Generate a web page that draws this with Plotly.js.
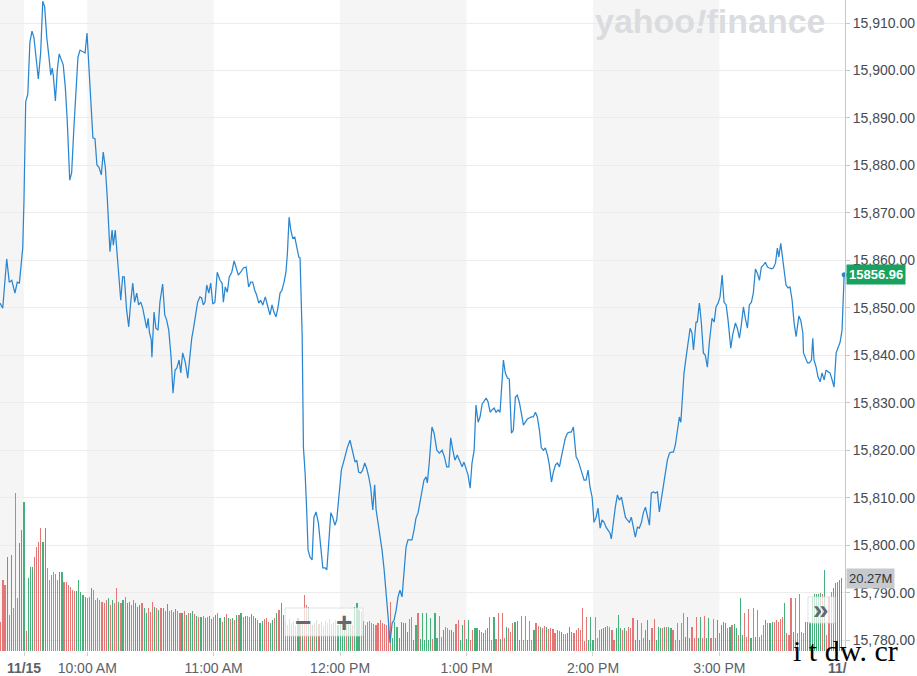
<!DOCTYPE html>
<html>
<head>
<meta charset="utf-8">
<script src="https://cdn.plot.ly/plotly-3.0.1.min.js"></script>
<style>html,body{margin:0;padding:0;background:#fff;}#chart{width:917px;height:676px;}</style>
</head>
<body>
<div id="chart"></div>
<script>
// ---- DATA ----
// price series: minutes after 09:30 and index level
const minutes = [
-11.4,-10.1,-8.2,-7.0,-5.8,-4.3,-3.2,-2.2,-0.6,0,
0.8,1.8,2.8,3.8,4.7,6.0,6.8,7.9,8.9,9.8,
10.8,11.9,12.7,13.4,13.9,14.9,15.8,16.7,17.9,18.6,
19.6,20.5,21.7,22.6,23.7,24.7,25.6,26.6,27.7,29.0,
29.9,30.7,31.7,32.7,33.7,34.6,35.6,36.7,37.6,38.6,
39.5,40.2,40.8,41.8,42.4,43.3,44.0,45.0,45.9,46.8,
47.6,48.7,49.7,50.6,51.6,52.5,53.5,54.4,55.4,56.3,
57.3,58.2,58.9,59.5,60.4,60.7,61.7,62.6,63.6,64.5,
65.8,66.8,67.7,68.7,69.8,70.7,71.7,72.5,73.6,74.4,
75.3,76.6,77.7,78.8,79.6,80.3,81.2,82.4,83.5,84.3,
85.1,85.9,86.7,87.7,88.6,89.6,90.6,91.7,93.0,94.0,
94.6,95.5,96.5,97.4,98.6,99.7,100.6,101.7,102.8,104.1,
105.4,106.0,106.6,107.6,108.5,109.5,110.4,111.4,112.3,113.3,
114.5,115.5,116.7,117.7,118.6,119.6,120.5,121.5,122.4,123.4,
124.3,125.0,125.8,126.6,127.5,128.5,129.4,130.4,131.0,131.5,
132.0,132.6,133.4,134.2,134.8,135.7,136.7,137.6,138.6,139.7,
140.8,141.8,142.9,143.7,144.6,145.6,146.5,147.5,148.4,149.6,
150.6,152.3,153.4,154.7,156.0,157.1,157.9,158.8,159.8,160.7,
161.7,162.6,163.6,164.5,165.5,166.4,167.1,168.0,169.0,169.9,
170.9,171.8,172.8,173.7,174.7,175.6,176.6,177.5,178.4,179.4,
180.4,181.3,182.2,183.2,184.1,185.1,186.0,187.0,187.9,188.9,
189.8,190.8,191.4,192.3,193.6,194.6,195.9,197.1,198.4,199.5,
200.6,201.6,202.5,203.5,204.5,205.6,206.9,207.9,208.8,209.8,
210.7,211.7,212.6,213.6,214.5,215.5,216.4,217.4,218.3,219.3,
220.2,221.2,222.1,223.1,224.0,225.0,225.9,226.7,227.5,228.4,
229.4,230.3,231.3,232.2,233.2,234.1,235.1,236.0,237.0,237.9,
238.9,239.8,240.8,241.7,242.7,243.6,244.6,245.5,246.5,247.4,
248.4,249.3,250.3,251.2,252.2,253.1,254.1,255.0,256.0,256.9,
257.9,258.8,259.7,260.7,261.4,262.0,262.9,263.9,264.8,265.8,
266.7,267.7,268.6,269.6,270.5,271.5,272.4,273.4,274.3,275.3,
276.2,277.2,278.1,278.7,279.7,280.6,281.6,282.5,283.5,284.4,
285.4,286.3,287.3,288.2,289.2,290.1,291.1,292.0,293.0,293.9,
294.9,295.8,296.8,297.7,298.7,299.6,300.6,301.5,302.5,303.4,
304.4,305.3,306.3,307.2,308.2,309.1,310.1,311.0,311.7,312.3,
313.2,314.2,315.1,316.1,317.0,317.7,318.9,319.5,320.5,321.4,
322.4,323.3,324.3,325.2,326.5,327.5,328.4,329.4,330.3,331.3,
332.2,333.2,334.1,335.1,335.4,336.3,337.6,338.5,339.5,340.4,
341.4,342.3,343.3,344.2,345.2,346.1,347.1,348.0,349.0,349.9,
350.9,351.8,352.8,353.7,354.7,355.6,356.6,357.5,358.2,359.1,
360.1,360.7,361.6,362.6,363.5,364.5,365.4,366.4,367.7,368.6,
369.6,369.9,370.8,371.8,372.7,373.7,374.3,374.9,375.9,376.8,
377.8,378.7,379.7,380.6,381.6,382.5,383.5,384.4,385.4,386.3,
387.3,388.2,389.2
];
const prices = [
15851.0,15849.9,15860.3,15855.4,15855.8,15853.1,15855.4,15855.2,15862.6,15872.7,
15893.4,15895.0,15906.0,15908.3,15907.0,15902.2,15898.2,15903.7,15914.6,15913.4,
15907.0,15902.6,15899.0,15900.5,15899.0,15893.6,15900.1,15903.5,15902.0,15901.2,
15896.5,15889.6,15876.9,15878.4,15888.1,15896.5,15902.8,15904.3,15904.1,15903.7,
15907.9,15902.2,15893.8,15885.8,15885.6,15880.1,15879.6,15878.0,15882.8,15879.6,
15873.3,15866.4,15861.8,15866.4,15863.2,15866.4,15862.2,15856.5,15851.6,15856.5,
15856.5,15849.5,15846.0,15851.0,15855.2,15851.2,15853.1,15850.6,15851.2,15850.0,
15847.8,15845.7,15847.8,15844.9,15843.2,15839.6,15849.1,15845.7,15845.3,15851.2,
15855.0,15848.5,15847.4,15845.3,15839.6,15832.0,15836.9,15837.3,15839.0,15836.3,
15840.5,15838.4,15835.2,15840.5,15843.6,15845.3,15848.1,15851.2,15852.3,15852.1,
15850.6,15851.2,15854.8,15853.1,15855.2,15850.8,15851.2,15857.5,15855.8,15855.2,
15851.2,15854.4,15853.3,15856.5,15857.5,15859.9,15858.6,15856.9,15857.5,15858.4,
15858.6,15856.9,15854.4,15855.4,15855.4,15853.7,15852.7,15851.0,15851.6,15850.6,
15852.3,15850.6,15848.5,15850.6,15849.1,15848.1,15850.0,15853.1,15853.7,15855.4,
15857.5,15861.5,15869.1,15866.4,15864.7,15864.9,15862.8,15860.7,15860.5,15851.6,
15844.3,15820.6,15815.2,15806.8,15799.0,15797.5,15796.9,15805.9,15807.0,15804.7,
15799.6,15795.2,15795.2,15794.8,15800.4,15806.8,15805.9,15804.2,15805.3,15811.0,
15815.8,15818.6,15820.5,15822.1,15819.6,15817.5,15817.9,15815.4,15815.2,15815.8,
15817.3,15816.2,15814.4,15812.2,15807.4,15812.7,15807.4,15804.7,15801.1,15799.0,
15794.8,15790.5,15784.8,15779.4,15783.6,15784.2,15786.3,15789.1,15790.5,15789.1,
15794.8,15799.6,15801.1,15801.1,15801.1,15803.2,15805.7,15806.8,15808.9,15811.6,
15813.7,15814.4,15813.1,15817.3,15824.9,15823.6,15820.0,15819.4,15820.0,15818.6,
15816.5,15816.5,15822.6,15820.0,15817.9,15819.0,15817.5,15816.5,15817.5,15816.2,
15814.8,15812.0,15817.3,15820.0,15829.5,15825.9,15827.0,15829.7,15830.2,15831.0,
15830.2,15828.0,15828.5,15828.9,15828.0,15828.5,15828.0,15834.8,15839.0,15836.3,
15835.2,15835.0,15823.6,15824.2,15831.2,15831.6,15830.0,15827.8,15825.3,15825.9,
15826.6,15826.8,15827.0,15827.0,15828.0,15827.0,15824.2,15820.5,15820.0,15820.5,
15819.0,15816.9,15813.3,15815.4,15816.9,15817.3,15816.5,15818.6,15820.7,15822.6,
15823.6,15823.8,15823.8,15824.9,15821.5,15818.6,15817.9,15816.5,15815.2,15813.7,
15813.7,15815.8,15812.2,15810.1,15804.8,15805.9,15807.8,15803.6,15805.3,15804.8,
15803.8,15803.2,15802.5,15801.3,15805.3,15808.0,15810.6,15809.5,15810.1,15808.0,
15805.9,15805.3,15804.8,15805.9,15803.8,15801.7,15803.8,15803.6,15804.8,15806.8,
15808.0,15805.9,15804.2,15811.0,15811.2,15811.0,15811.2,15807.0,15810.1,15812.6,
15815.8,15817.9,15819.4,15819.6,15819.6,15821.1,15824.2,15827.0,15825.9,15831.2,
15836.2,15839.6,15842.6,15845.7,15844.7,15841.1,15847.0,15847.0,15851.0,15847.0,
15840.5,15840.0,15837.5,15842.6,15847.8,15847.0,15850.2,15851.0,15852.3,15856.9,
15851.2,15850.6,15847.4,15843.6,15841.5,15844.3,15846.8,15845.7,15843.6,15846.4,
15850.2,15847.8,15845.7,15850.6,15851.2,15853.1,15858.2,15857.3,15855.8,15858.6,
15859.0,15859.6,15858.6,15858.4,15858.2,15858.4,15859.4,15862.6,15860.7,15863.6,
15860.1,15857.3,15854.8,15854.2,15854.4,15851.6,15847.0,15843.9,15848.3,15847.4,
15844.7,15840.5,15839.4,15838.4,15838.4,15839.0,15843.6,15839.0,15837.5,15835.4,
15834.4,15836.3,15834.8,15836.9,15836.5,15836.3,15834.8,15833.3,15840.5,15841.7,
15842.8,15845.3,15856.96
];

// volume per minute, millions, first bar at minute -11
const volumeStartMinute = -11;
const volumes = [
8.1,19.7,18.3,26.1,10.0,26.7,11.9,43.9,14.7,30.0,
33.6,41.4,5.6,20.3,23.3,23.3,26.1,28.9,30.3,34.2,
30.3,34.2,23.0,19.7,21.1,21.9,21.4,19.7,21.9,21.9,
19.2,19.2,18.3,17.8,16.9,16.7,16.7,19.7,16.4,15.6,
15.0,14.7,15.0,17.5,16.9,14.2,14.7,14.2,13.6,13.3,
14.2,14.7,12.8,14.2,13.3,17.5,13.6,13.3,14.2,15.0,
13.3,13.6,12.8,14.2,13.3,12.2,12.8,13.3,11.9,10.6,
11.9,10.8,13.6,12.2,11.9,11.4,11.9,11.9,11.1,13.1,
11.1,
11.4,10.8,11.7,11.1,10.6,10.6,11.1,10.0,10.6,
10.6,11.1,10.3,9.7,9.4,9.4,9.7,9.2,9.4,
9.7,8.9,9.4,10.0,10.6,9.2,8.1,9.4,10.3,9.2,
8.9,9.2,8.6,10.0,10.0,10.6,9.4,9.7,9.7,
9.4,10.3,9.7,9.2,8.6,7.8,8.3,8.9,9.2,8.1,
7.8,8.6,9.2,10.6,11.4,13.3,10.0,
8.3,7.2,8.9,7.8,8.3,6.9,9.2,8.1,7.5,15.6,12.8,12.2,8.3,7.2,7.8,8.6,7.5,8.1,6.9,8.3,7.8,8.9,7.5,8.1,8.6,7.2,8.3,
7.8,8.3,7.5,8.6,8.1,7.2,12.2,13.3,11.4,10.8,8.3,
7.2,8.1,8.3,7.8,7.5,7.2,7.8,8.6,7.8,7.5,7.2,7.8,13.6,3.6,8.1,6.7,3.6,8.1,7.8,7.8,5.3,8.9,9.4,3.1,7.2,10.6,3.3,10.6,3.1,10.6,3.1,9.2,3.3,
10.6,3.6,9.7,3.9,5.8,6.7,6.4,5.8,5.8,5.3,7.5,8.6,3.1,7.2,8.6,3.3,8.6,3.1,5.8,6.4,6.4,5.8,5.3,5.0,5.8,6.4,9.4,3.1,9.4,3.3,10.6,3.3,10.6,3.6,6.7,6.4,5.3,
7.8,8.1,8.3,3.1,9.7,3.1,9.7,3.1,8.3,3.1,
5.8,7.8,6.9,6.7,6.4,6.9,6.7,6.1,6.4,6.1,
5.0,5.8,5.6,5.3,4.7,4.7,5.0,6.7,5.3,5.0,
5.8,6.4,5.8,
11.9,
2.8,9.4,3.1,9.4,3.1,9.4,3.6,5.8,6.1,6.4,
6.7,6.9,6.7,5.8,3.1,6.4,10.0,6.4,5.8,6.4,
5.6,6.7,6.4,9.2,3.1,8.6,3.1,7.8,3.6,5.8,
8.6,3.1,6.4,8.9,3.1,6.7,6.4,6.4,6.7,6.7,
6.7,6.4,5.8,3.1,7.8,3.1,7.8,
10.6,3.9,9.4,3.6,6.7,3.6,9.4,3.6,9.4,3.6,
9.7,3.6,9.2,3.6,8.9,3.6,8.6,5.0,7.2,8.1,
7.8,6.4,6.7,7.2,7.5,6.4,4.4,14.7,4.4,10.6,
3.9,11.7,3.6,11.9,3.9,11.4,3.9,4.4,7.2,8.6,
7.8,7.8,8.1,8.1,8.6,8.1,8.9,9.4,13.3,5.0,
4.4,14.7,5.3,14.7,5.0,15.8,5.3,5.0,8.1,8.1,
8.1,15.0,15.8,15.8,15.8,16.1,15.8,22.5,4.4,15.0,
16.4,17.5,18.9,19.2,19.7,20.27
];
// bar direction per minute: r = down, g = up
const volumeDirection =
  "rrrgrgrrrg"+"ggrgggrrrr"+"ggrrrrrrgg"+"rrrrrrgggg"+"grrgrrrrrr"+"rgrgrrgrgr"+"ggrrgggrgg"+"rrrgrgrgrg"+"r"+
  "rggrrgrgr"+"ggrgrgrgr"+"ggrgrgrgrg"+"rgrgrgrgr"+"rgrgrggrrr"+"ggrgrgg"+"rrgrgrgrgrrgrgrgrgrgrgrgrgg"+
  "ggrggrgggrg"+"rrrrrrrrrrrr"+"r"+"gggggggg"+"rr"+"gg"+"r"+"gggggg"+"r"+"ggrrgrrrgr"+"rrggrggrrg"+"ggrgrgrrgr"+"rgrrgrr"+
  "rgggrrrgrr"+"grrgrrgrrr"+"rrrgrrgggr"+"rrr"+"r"+"rrgggrrrgg"+"grrrrgggrg"+"rrrrgggrrg"+"ggrrgggrgr"+"ggrrrgr"+
  "rgggrrrggr"+"rggrrggrgg"+"grgrggrggr"+"rrgrgrrrrg"+"rggrrrrrgr"+"rrgrrrrrgg"+"ggggggrgrr"+"rggggg";

// axis ticks
const tickMinutes = [0, 30, 90, 150, 210, 270, 330, 386];
const tickLabels = ["<b>11/15</b>", "10:00 AM", "11:00 AM", "12:00 PM", "1:00 PM", "2:00 PM", "3:00 PM", "<b>11/</b>"];

// ---- CHECKS ----
if (minutes.length !== prices.length) throw new Error("price arrays " + minutes.length + " vs " + prices.length);
if (volumes.length !== volumeDirection.length) throw new Error("volume arrays " + volumes.length + " vs " + volumeDirection.length);

// ---- BUILD ----
const volMinutes = volumes.map((v, i) => volumeStartMinute + i);
const RED = '#e57676', GREEN = '#45b07a';
const volColors = volumeDirection.split('').map(c => c === 'g' ? GREEN : RED);
const lastPrice = prices[prices.length - 1];
const lastVol = volumes[volumes.length - 1];
const FONT = 'Liberation Sans, Arial, sans-serif';

const traces = [
  {type:'bar', x: volMinutes, y: volumes, yaxis:'y', xaxis:'x',
   marker:{color: volColors, line:{width:0}}, width:0.55, hoverinfo:'skip'},
  {type:'scatter', mode:'lines', x: minutes, y: prices, yaxis:'y2', xaxis:'x',
   line:{color:'#2a86d1', width:1.25}, hoverinfo:'skip'},
  {type:'scatter', mode:'markers', x:[minutes[minutes.length-1]], y:[lastPrice], yaxis:'y2', xaxis:'x',
   marker:{color:'#2a86d1', size:5}, hoverinfo:'skip', cliponaxis:false}
];

const bands = [[-11.39, 0], [30, 90], [150, 210], [270, 330]];
const shapes = bands.map(b => ({type:'rect', xref:'x', yref:'paper', x0:b[0], x1:b[1], y0:0, y1:1,
  fillcolor:'#f5f5f5', line:{width:0}, layer:'below'}));
shapes.push({type:'rect', xref:'paper', yref:'paper', x0:0.3373, x1:0.4296, y0:0.023, y1:0.066,
  fillcolor:'rgba(255,255,255,0.72)', line:{color:'rgba(215,215,215,0.7)', width:1}, layer:'above'});
shapes.push({type:'rect', xref:'paper', yref:'paper', x0:0.9562, x1:0.9882, y0:0.043, y1:0.083,
  fillcolor:'rgba(255,255,255,0.72)', line:{color:'rgba(215,215,215,0.7)', width:1}, layer:'above'});

const annotations = [
  {xref:'paper', x:1, xanchor:'left', xshift:1, yref:'y2', y:lastPrice, yanchor:'middle',
   text:'<b>' + lastPrice.toFixed(2) + '</b>', showarrow:false, bgcolor:'#19a25f', borderpad:2,
   font:{family:FONT, size:13, color:'#ffffff'}},
  {xref:'paper', x:1, xanchor:'left', xshift:1, yref:'y', y:lastVol, yanchor:'middle',
   text: lastVol.toFixed(2) + 'M', showarrow:false, bgcolor:'#c6c9cd', borderpad:2,
   font:{family:FONT, size:13, color:'#30363b'}},
  {xref:'paper', yref:'paper', x:0.8414, y:0.967, xanchor:'center', yanchor:'middle',
   text:'<b>yahoo<i>!</i>finance</b>', showarrow:false,
   font:{family:FONT, size:34, color:'#dadce0'}},
  {xref:'paper', yref:'paper', x:0.3586, y:0.0445, xanchor:'center', yanchor:'middle',
   text:'<b>−</b>', showarrow:false, font:{family:FONT, size:28, color:'#626a70'}},
  {xref:'paper', yref:'paper', x:0.4071, y:0.0445, xanchor:'center', yanchor:'middle',
   text:'<b>+</b>', showarrow:false, font:{family:FONT, size:28, color:'#626a70'}},
  {xref:'paper', yref:'paper', x:0.9716, y:0.063, xanchor:'center', yanchor:'middle',
   text:'<b>»</b>', showarrow:false, font:{family:FONT, size:28, color:'#626a70'}},
  {xref:'paper', yref:'paper', x:1.0, y:0.001, xanchor:'center', yanchor:'middle',
   text:'i t dw. cr', showarrow:false, font:{family:'Liberation Serif, serif', size:30, color:'#000000'}}
];

const layout = {
  width:917, height:676,
  margin:{l:0, r:72, t:0, b:25, pad:0},
  paper_bgcolor:'#ffffff', plot_bgcolor:'#ffffff',
  showlegend:false, hovermode:false, bargap:0,
  xaxis:{range:[-11.39, 389.6], tickmode:'array', tickvals:tickMinutes, ticktext:tickLabels,
    ticks:'outside', ticklen:4, tickcolor:'#cfcfcf', showgrid:false, zeroline:false, showline:false,
    tickfont:{family:FONT, size:14, color:'#5b6166'}, fixedrange:true},
  yaxis:{range:[0, 180.8], visible:false, fixedrange:true},
  yaxis2:{overlaying:'y', side:'right', anchor:'x', range:[15777.7, 15914.85], tick0:15780, dtick:10,
    tickformat:',.2f', showgrid:true, gridcolor:'#ececec', gridwidth:1, zeroline:false,
    showline:true, linecolor:'#c8c8c8', linewidth:1, ticks:'outside', ticklen:4, tickcolor:'#c8c8c8',
    tickfont:{family:FONT, size:14, color:'#464b50'}, fixedrange:true},
  shapes: shapes,
  annotations: annotations
};

Plotly.newPlot('chart', traces, layout, {displayModeBar:false, staticPlot:true});
</script>
</body>
</html>
